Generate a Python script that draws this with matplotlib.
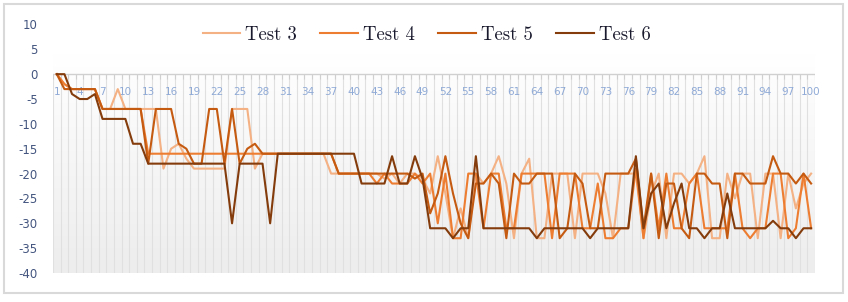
import numpy as np
import matplotlib
matplotlib.use("Agg")
import matplotlib.pyplot as plt
from matplotlib.patches import Rectangle

# --- datos ---
categories = list(range(1, 101))
series_names = ["Test 3", "Test 4", "Test 5", "Test 6"]
colors = ["#F4B183", "#ED7D31", "#C55A11", "#843C0C"]

test3 = [0, -2, -3, -3, -3, -3, -7, -7, -3, -7,
         -7, -7, -7, -7, -19, -15, -14, -17, -19, -19,
         -19, -19, -19, -7, -7, -7, -19, -16, -16, -16,
         -16, -16, -16, -16, -16, -16, -20, -20, -20, -20,
         -20, -20, -20, -21, -20, -22, -20, -20, -21, -24,
         -16.5, -24, -33, -27, -33, -20, -22, -20, -16.5, -22,
         -33, -20, -17, -33, -33, -20, -20, -20, -33, -20,
         -20, -20, -24, -33, -20, -20, -20, -33, -24, -20,
         -33, -20, -20, -22, -20, -16.5, -33, -33, -20, -25,
         -20, -20, -33, -20, -20, -33, -20, -27, -22, -20]

test4 = [0, -2, -3, -3, -3, -3, -7, -7, -7, -7,
         -7, -7, -16, -16, -16, -16, -16, -16, -16, -16,
         -16, -16, -16, -16, -16, -16, -16, -16, -16, -16,
         -16, -16, -16, -16, -16, -16, -16, -20, -20, -20,
         -20, -20, -22, -20, -22, -22, -22, -20, -22, -20,
         -30, -20, -33, -33, -20, -20, -31, -20, -20, -31,
         -31, -20, -20, -20, -20, -33, -20, -20, -20, -31,
         -31, -22, -33, -33, -31, -31, -19, -33, -20, -31,
         -20, -31, -31, -22, -20, -31, -31, -31, -31, -20,
         -31, -33, -31, -31, -20, -20, -33, -31, -20, -31]

test5 = [0, -3, -3, -3, -3, -3, -7, -7, -7, -7,
         -7, -7, -18, -7, -7, -7, -14, -15, -18, -18,
         -7, -7, -18, -7, -18, -15, -14, -16, -16, -16,
         -16, -16, -16, -16, -16, -16, -16, -20, -20, -20,
         -20, -20, -20, -20, -20, -20, -20, -21, -20, -28,
         -24, -16.5, -24, -30, -33, -22, -22, -20, -22, -33,
         -20, -22, -22, -20, -20, -20, -33, -31, -20, -22,
         -31, -31, -20, -20, -20, -20, -17, -31, -20, -33,
         -22, -22, -31, -33, -20, -20, -22, -22, -33, -20,
         -20, -22, -22, -22, -16.5, -20, -20, -22, -20, -22]

test6 = [0, 0, -4, -5, -5, -4, -9, -9, -9, -9,
         -14, -14, -18, -18, -18, -18, -18, -18, -18, -18,
         -18, -18, -18, -30, -18, -18, -18, -18, -30, -16,
         -16, -16, -16, -16, -16, -16, -16, -16, -16, -16,
         -22, -22, -22, -22, -16.5, -22, -22, -16.5, -21, -31,
         -31, -31, -33, -31, -31, -16.5, -31, -31, -31, -31,
         -31, -31, -31, -33, -31, -31, -31, -31, -31, -31,
         -33, -31, -31, -31, -31, -31, -16.5, -31, -24, -22,
         -31, -26, -22, -31, -31, -33, -31, -31, -24, -31,
         -31, -31, -31, -31, -29.5, -31, -31, -33, -31, -31]

y_ticks = [10, 5, 0, -5, -10, -15, -20, -25, -30, -35, -40]
x_labels = categories[::3]

# --- figura ---
fig = plt.figure(figsize=(8.48, 3.02), dpi=100)
ax = fig.add_axes([0.0625, 0.096, 0.8985, 0.823])

# marco exterior
fig.patches.append(Rectangle((0.005, 0.03), 0.989, 0.958, transform=fig.transFigure,
                             fill=False, edgecolor="#d9d9d9", linewidth=1.5))

# fondo degradado del área de trazado
grad = np.linspace(0, 1, 256).reshape(-1, 1)
cmap = matplotlib.colors.LinearSegmentedColormap.from_list("g", ["#ffffff", "#ededed"])
ax.imshow(grad, cmap=cmap, aspect="auto", extent=[0.5, 100.5, -40, 4], zorder=0)

# líneas de división verticales y marcas del eje
bounds = np.arange(0.5, 101, 1)
ax.vlines(bounds, -40, 0, colors="#e0e0e0", linewidth=0.8, zorder=1)
ax.vlines(bounds, -1.0, 0, colors="#cfcfcf", linewidth=0.8, zorder=1)
ax.axhline(0, color="#d0d0d0", linewidth=1.0, zorder=1)

for lab in x_labels:
    ax.text(lab, -3.6, str(lab), ha="center", va="center", fontsize=7.5,
            color="#8faad6", zorder=2)

for name, vals, c in zip(series_names, [test3, test4, test5, test6], colors):
    ax.plot(categories, vals, color=c, linewidth=1.5, label=name, zorder=3)

ax.set_xlim(0.5, 100.5)
ax.set_ylim(-40, 10)
ax.set_yticks(y_ticks)
ax.set_yticklabels([str(t) for t in y_ticks])
ax.set_xticks([])
ax.tick_params(axis="y", length=0, pad=11, labelsize=8.5, labelcolor="#43557f")
for s in ax.spines.values():
    s.set_visible(False)

leg = fig.legend(loc="center", bbox_to_anchor=(0.503, 0.884), ncol=4, frameon=False,
                 handlelength=2.0, handletextpad=0.27, columnspacing=1.25,
                 prop={"family": "cmr10", "size": 13.5})
for t in leg.get_texts():
    t.set_color("#1a1a2e")

fig.savefig("out.png", dpi=100)
